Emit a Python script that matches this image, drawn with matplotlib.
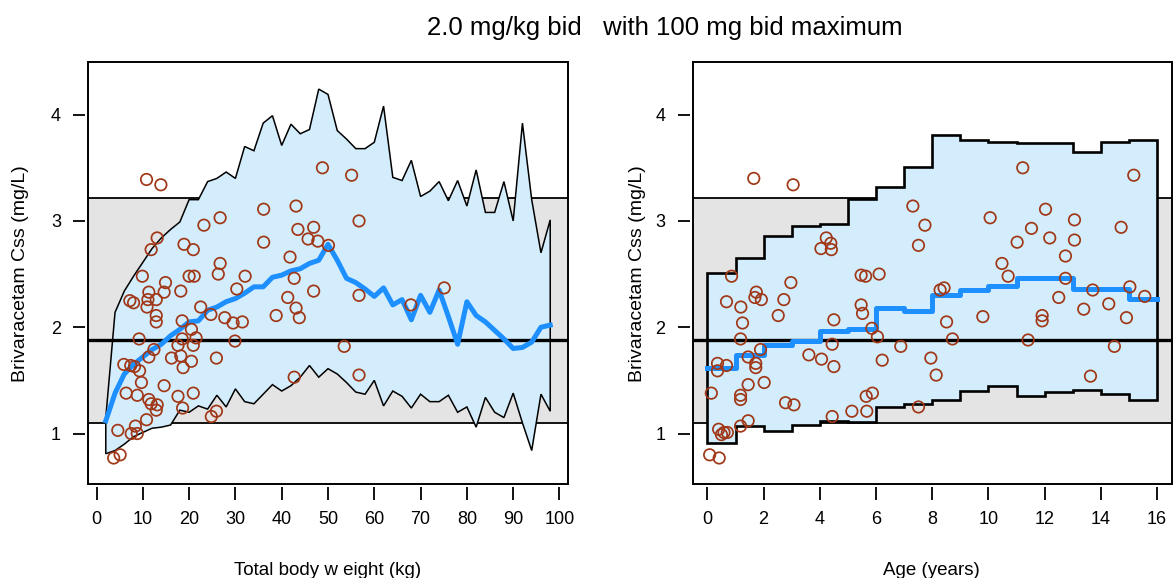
import matplotlib
matplotlib.use('Agg')
import matplotlib.pyplot as plt
from matplotlib.patches import Rectangle
import numpy as np

plt.rcParams['font.family'] = ['Liberation Sans', 'DejaVu Sans']

# target exposure range (lower, median, upper reference lines)
ref_lo, ref_mid, ref_hi = 1.10, 1.88, 3.22

# ---- left panel: Css vs total body weight (2 kg bins) ----
wt_grid = list(range(2, 100, 2))
wt_p95 = [1.15, 2.14, 2.34, 2.48, 2.61, 2.74, 2.84, 2.92, 2.99, 3.20,
          3.20, 3.37, 3.40, 3.46, 3.40, 3.70, 3.66, 3.92, 3.99, 3.71,
          3.91, 3.82, 3.86, 4.24, 4.19, 3.85, 3.77, 3.68, 3.68, 3.74,
          4.08, 3.41, 3.38, 3.57, 3.23, 3.28, 3.37, 3.19, 3.38, 3.14,
          3.48, 3.08, 3.08, 3.37, 3.00, 3.92, 3.20, 2.70, 3.01]
wt_med = [1.12, 1.38, 1.56, 1.65, 1.72, 1.79, 1.84, 1.92, 1.98, 2.05,
          2.06, 2.16, 2.19, 2.24, 2.27, 2.32, 2.38, 2.38, 2.47, 2.49,
          2.53, 2.55, 2.60, 2.63, 2.78, 2.63, 2.46, 2.42, 2.36, 2.29,
          2.37, 2.21, 2.26, 2.07, 2.30, 2.14, 2.35, 2.10, 1.84, 2.24,
          2.11, 2.05, 1.97, 1.89, 1.80, 1.81, 1.86, 2.00, 2.02]
wt_p05 = [0.81, 0.84, 0.90, 0.97, 1.01, 1.05, 1.06, 1.08, 1.22, 1.20,
          1.26, 1.23, 1.36, 1.25, 1.42, 1.30, 1.28, 1.37, 1.46, 1.40,
          1.45, 1.53, 1.64, 1.53, 1.61, 1.56, 1.48, 1.39, 1.37, 1.50,
          1.26, 1.40, 1.35, 1.24, 1.37, 1.30, 1.30, 1.36, 1.20, 1.25,
          1.06, 1.34, 1.20, 1.15, 1.38, 1.10, 0.84, 1.37, 1.21]

obs_wt = [10.8, 13.9, 26.7, 23.2, 13.1, 11.8, 18.9, 20.9, 26.7, 26.3,
          9.9, 20.0, 21.1, 32.1, 30.3, 14.9, 18.2, 11.3, 14.6, 7.2,
          8.0, 11.1, 12.9, 10.9, 22.5, 12.9, 12.9, 18.5, 24.7, 27.7,
          29.5, 31.5, 20.5, 9.2, 18.5, 21.5, 17.6, 20.9, 29.9, 12.4,
          11.3, 16.2, 18.2, 20.5, 25.9, 5.9, 7.4, 8.2, 9.3, 18.7,
          9.7, 14.6, 6.4, 8.8, 11.3, 17.6, 20.9, 11.8, 13.1, 12.9,
          18.6, 10.8, 24.8, 25.9, 4.6, 8.4, 7.5, 8.8, 3.7, 5.1,
          48.8, 55.1, 36.1, 43.1, 56.7, 43.5, 46.9, 45.7, 47.8, 50.1,
          36.1, 41.8, 42.7, 46.9, 41.3, 43.1, 43.8, 38.8, 56.7, 67.9,
          53.5, 42.7, 56.7, 75.1]
obs_wt_css = [3.39, 3.34, 3.03, 2.96, 2.84, 2.73, 2.78, 2.73, 2.60, 2.50,
              2.48, 2.48, 2.48, 2.48, 2.36, 2.42, 2.34, 2.33, 2.33, 2.25,
              2.23, 2.26, 2.26, 2.19, 2.19, 2.11, 2.05, 2.06, 2.12, 2.09,
              2.04, 2.05, 1.98, 1.89, 1.89, 1.90, 1.83, 1.83, 1.87, 1.79,
              1.72, 1.71, 1.73, 1.68, 1.71, 1.65, 1.64, 1.63, 1.59, 1.62,
              1.48, 1.45, 1.38, 1.36, 1.32, 1.35, 1.38, 1.28, 1.27, 1.22,
              1.24, 1.13, 1.16, 1.21, 1.03, 1.07, 1.00, 1.00, 0.77, 0.80,
              3.50, 3.43, 3.11, 3.14, 3.00, 2.92, 2.94, 2.83, 2.81, 2.77,
              2.80, 2.66, 2.46, 2.34, 2.28, 2.18, 2.09, 2.11, 2.30, 2.21,
              1.82, 1.53, 1.55, 2.37]

# ---- right panel: Css vs age (1-year bins, 0..16) ----
age_edges = list(range(0, 17))
age_p95 = [2.51, 2.65, 2.86, 2.95, 2.97, 3.21, 3.32, 3.51, 3.81, 3.76,
           3.74, 3.73, 3.73, 3.65, 3.74, 3.76]
age_med = [1.62, 1.74, 1.83, 1.87, 1.96, 1.98, 2.18, 2.15, 2.30, 2.35,
           2.39, 2.46, 2.46, 2.36, 2.36, 2.27]
age_p05 = [0.91, 1.07, 1.02, 1.08, 1.12, 1.11, 1.25, 1.28, 1.32, 1.40,
           1.45, 1.35, 1.39, 1.41, 1.37, 1.32]

obs_age = [1.65, 3.05, 4.23, 4.39, 4.04, 4.41, 0.86, 2.97, 1.74, 1.69,
           1.92, 0.68, 1.19, 2.72, 1.25, 2.52, 4.50, 1.18, 4.44, 1.89,
           1.45, 0.36, 0.68, 0.36, 1.72, 1.72, 3.61, 4.06, 4.50, 2.02,
           1.45, 0.14, 1.18, 1.18, 2.78, 3.08, 4.44, 1.45, 1.18, 0.40,
           0.59, 0.71, 0.50, 0.08, 0.42, 5.14,
           7.31, 7.74, 7.51, 10.06, 5.47, 5.63, 6.11, 8.28, 8.42, 5.47,
           5.52, 8.51, 9.80, 5.85, 6.05, 8.72, 6.88, 6.22, 7.95, 8.14,
           5.87, 5.65, 5.67, 7.51,
           11.22, 15.17, 12.03, 13.06, 11.53, 12.18, 11.02, 13.06, 14.72, 12.74,
           10.48, 10.70, 12.74, 13.71, 15.03, 15.56, 12.50, 13.39, 14.28, 11.91,
           11.91, 14.91, 11.41, 14.48, 13.63]
obs_age_css = [3.40, 3.34, 2.84, 2.79, 2.74, 2.73, 2.48, 2.42, 2.33, 2.28,
               2.26, 2.24, 2.19, 2.26, 2.04, 2.11, 2.07, 1.89, 1.84, 1.79,
               1.72, 1.66, 1.64, 1.59, 1.66, 1.62, 1.74, 1.70, 1.63, 1.48,
               1.46, 1.38, 1.36, 1.32, 1.29, 1.27, 1.16, 1.12, 1.07, 1.04,
               1.01, 1.01, 0.99, 0.80, 0.77, 1.21,
               3.14, 2.96, 2.77, 3.03, 2.49, 2.48, 2.50, 2.35, 2.37, 2.21,
               2.13, 2.05, 2.10, 1.99, 1.91, 1.89, 1.82, 1.69, 1.71, 1.55,
               1.38, 1.35, 1.21, 1.25,
               3.50, 3.43, 3.11, 3.01, 2.93, 2.84, 2.80, 2.82, 2.94, 2.67,
               2.60, 2.48, 2.46, 2.35, 2.38, 2.29, 2.28, 2.17, 2.22, 2.11,
               2.06, 2.09, 1.88, 1.82, 1.54]

BAND_FILL = '#d4edfc'
GREY = '#e4e4e4'
MEDIAN_BLUE = '#1e8fff'
OBS_RED = '#a03818'

W, H = 1174, 578
fig = plt.figure(figsize=(W / 100, H / 100), dpi=100)


def add_panel(left, right, top=62, bottom=483.5):
    return fig.add_axes([left / W, 1 - bottom / H, (right - left) / W, (bottom - top) / H])


def step_xy(edges, vals):
    # turn bin edges + values into a post-step polyline
    xs = np.repeat(edges, 2)[1:-1]
    ys = np.repeat(vals, 2)
    return xs, ys


def decorate(ax, xlim, xticks):
    ax.set_xlim(*xlim)
    ax.set_ylim(0.53, 4.495)
    ax.set_xticks(xticks)
    ax.set_yticks([1, 2, 3, 4])
    for s in ax.spines.values():
        s.set_visible(False)
    ax.spines['bottom'].set_position(('outward', 2.5))
    ax.spines['left'].set_position(('outward', 2.0))
    ax.tick_params(direction='out', length=9, width=1.3, labelsize=13, pad=8.5,
                   top=False, right=False)
    ax.add_patch(Rectangle((0, 0), 1, 1, transform=ax.transAxes, fill=False,
                           lw=1.4, ec='black', clip_on=False, zorder=10))


def ref_band(ax):
    ax.axhspan(ref_lo, ref_hi, color=GREY, lw=0, zorder=0)
    ax.axhline(ref_hi, color='black', lw=1.3, zorder=0.5)
    ax.axhline(ref_lo, color='black', lw=1.3, zorder=0.5)


# left panel
ax1 = add_panel(88, 568)
ref_band(ax1)
x = np.array(wt_grid)
ax1.fill(np.concatenate([x, x[::-1]]),
         np.concatenate([wt_p95, wt_p05[::-1]]),
         facecolor=BAND_FILL, edgecolor='black', lw=1.1, zorder=1)
ax1.axhline(ref_mid, color='black', lw=2.4, zorder=2)
ax1.plot(x, wt_med, color=MEDIAN_BLUE, lw=3.6, zorder=3, solid_joinstyle='round')
ax1.scatter(obs_wt, obs_wt_css, s=68, facecolors='none', edgecolors=OBS_RED,
            linewidths=1.25, zorder=4)
decorate(ax1, (-1.84, 101.84), range(0, 101, 10))

# right panel
ax2 = add_panel(692.5, 1172)
ref_band(ax2)
xs_hi, ys_hi = step_xy(age_edges, age_p95)
xs_lo, ys_lo = step_xy(age_edges, age_p05)
ax2.fill(np.concatenate([xs_hi, xs_lo[::-1]]),
         np.concatenate([ys_hi, ys_lo[::-1]]),
         facecolor=BAND_FILL, edgecolor='black', lw=1.9, zorder=1)
ax2.axhline(ref_mid, color='black', lw=2.4, zorder=2)
xs_md, ys_md = step_xy(age_edges, age_med)
ax2.plot(xs_md, ys_md, color=MEDIAN_BLUE, lw=3.6, zorder=3)
ax2.scatter(obs_age, obs_age_css, s=68, facecolors='none', edgecolors=OBS_RED,
            linewidths=1.25, zorder=4)
decorate(ax2, (-0.53, 16.53), range(0, 17, 2))

# titles and axis labels
fig.text(665 / W, 1 - 35 / H, '2.0 mg/kg bid   with 100 mg bid maximum',
         ha='center', va='baseline', fontsize=18.5)
fig.text(20.7 / W, 1 - 274 / H, 'Brivaracetam Css (mg/L)', rotation=90,
         ha='center', va='center', fontsize=14)
fig.text(638 / W, 1 - 274 / H, 'Brivaracetam Css (mg/L)', rotation=90,
         ha='center', va='center', fontsize=14)
fig.text(328 / W, 1 - 575 / H, 'Total body w eight (kg)',
         ha='center', va='baseline', fontsize=13.5)
fig.text(931 / W, 1 - 575 / H, 'Age (years)',
         ha='center', va='baseline', fontsize=13.5)

fig.savefig('out.png', dpi=100)
